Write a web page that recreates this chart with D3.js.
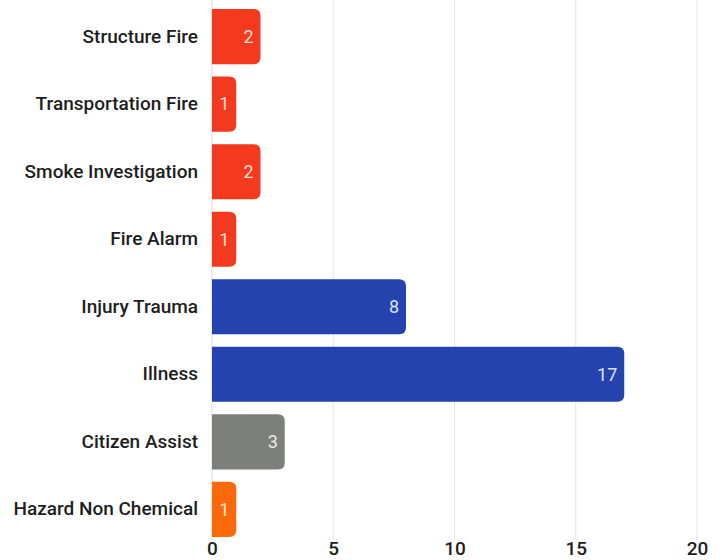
<!DOCTYPE html>
<html>
<head>
<meta charset="utf-8">
<script src="https://cdn.jsdelivr.net/npm/d3@7"></script>
<style>
  html, body { margin: 0; padding: 0; background: #fff; overflow: hidden; }
  svg { display: block; font-family: Roboto, "Noto Sans", sans-serif; }
</style>
</head>
<body>
<svg id="chart" width="720" height="560"></svg>
<script>
// Incident counts by call type
const categories = [
  "Structure Fire", "Transportation Fire", "Smoke Investigation", "Fire Alarm",
  "Injury Trauma", "Illness", "Citizen Assist", "Hazard Non Chemical"
];
const counts = [2, 1, 2, 1, 8, 17, 3, 1];
const groups = ["fire", "fire", "fire", "fire", "ems", "ems", "service", "hazard"];
const xTicks = [0, 5, 10, 15, 20];

const groupColor = { fire: "#f43a1e", ems: "#2443ae", service: "#7d807a", hazard: "#fb6a0a" };

const svg = d3.select("#chart");
const margin = { left: 212, right: 23, top: 9 };
const width = 720;

const x = d3.scaleLinear().domain([0, 20]).range([margin.left, width - margin.right]);
const y = d3.scaleBand().domain(categories)
  .range([margin.top - 6, margin.top - 6 + 67.5 * categories.length])
  .paddingInner(0.185).paddingOuter(0.09);

// vertical gridlines
svg.append("g").selectAll("line").data(xTicks.filter(d => d > 0)).join("line")
  .attr("x1", d => x(d)).attr("x2", d => x(d))
  .attr("y1", 0).attr("y2", 540)
  .attr("stroke", "#e4e4e4").attr("stroke-width", 1);

// baseline
svg.append("line")
  .attr("x1", x(0)).attr("x2", x(0)).attr("y1", 0).attr("y2", 540)
  .attr("stroke", "#d8d8d8");

// bar shape: square left edge, rounded right corners
function barPath(x0, x1, y0, h, r) {
  r = Math.min(r, (x1 - x0) / 2, h / 2);
  return `M${x0},${y0}H${x1 - r}Q${x1},${y0} ${x1},${y0 + r}V${y0 + h - r}Q${x1},${y0 + h} ${x1 - r},${y0 + h}H${x0}Z`;
}

const rows = categories.map((c, i) => ({ cat: c, value: counts[i], group: groups[i] }));

svg.append("g").selectAll("path").data(rows).join("path")
  .attr("d", d => barPath(x(0), x(d.value), y(d.cat), y.bandwidth(), 7))
  .attr("fill", d => groupColor[d.group]);

// value labels inside bar ends
svg.append("g").selectAll("text").data(rows).join("text")
  .attr("x", d => x(d.value) - 7)
  .attr("y", d => y(d.cat) + y.bandwidth() / 2)
  .attr("dy", "0.35em")
  .attr("text-anchor", "end")
  .attr("font-size", 18)
  .attr("fill", "#ffffff")
  .attr("fill-opacity", 0.85)
  .text(d => d.value);

// category axis
const yAxis = svg.append("g")
  .attr("transform", `translate(${x(0)},0)`)
  .call(d3.axisLeft(y).tickSize(0).tickPadding(14));
yAxis.select(".domain").remove();
yAxis.selectAll("text").attr("font-size", 19).attr("font-weight", 500)
  .attr("fill", "#1e1e1e").attr("font-family", "Roboto, sans-serif");

// value axis
const xAxis = svg.append("g")
  .attr("transform", `translate(0,555)`)
  .call(d3.axisBottom(x).tickValues(xTicks).tickSize(0).tickPadding(0));
xAxis.select(".domain").remove();
xAxis.selectAll("text").attr("font-size", 19).attr("font-weight", 500)
  .attr("fill", "#1e1e1e").attr("font-family", "Roboto, sans-serif")
  .attr("y", 0).attr("dy", "0");
</script>
</body>
</html>
